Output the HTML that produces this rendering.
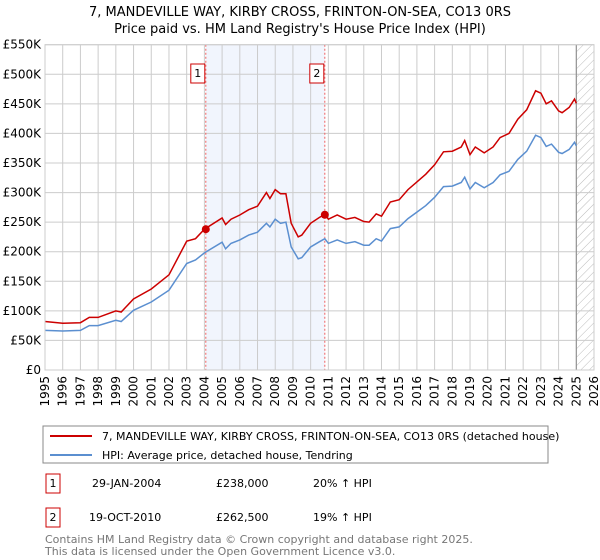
<!DOCTYPE html>
<html><head><meta charset="utf-8"><style>
body{margin:0;background:#fff;font-family:"Liberation Sans","DejaVu Sans",sans-serif;}
svg{display:block}
</style></head><body>
<svg width="600" height="560" xmlns="http://www.w3.org/2000/svg" font-family="DejaVu Sans, Liberation Sans, sans-serif">
<text x="300" y="16" text-anchor="middle" font-size="13">7, MANDEVILLE WAY, KIRBY CROSS, FRINTON-ON-SEA, CO13 0RS</text>
<text x="300" y="33" text-anchor="middle" font-size="13">Price paid vs. HM Land Registry's House Price Index (HPI)</text>
<defs><pattern id="hatch" width="6" height="6" patternUnits="userSpaceOnUse" patternTransform="rotate(45)"><line x1="0" y1="0" x2="0" y2="6" stroke="#bbb" stroke-width="1"/></pattern></defs>
<g id="grid"></g>
<g id="marks"></g>
<g id="axes"></g>
<rect x="43" y="426" width="505" height="37" fill="none" stroke="#888"/>
<line x1="50" y1="436" x2="92" y2="436" stroke="#cc0000" stroke-width="2"/>
<text x="102" y="440" font-size="11">7, MANDEVILLE WAY, KIRBY CROSS, FRINTON-ON-SEA, CO13 0RS (detached house)</text>
<line x1="50" y1="455" x2="92" y2="455" stroke="#5b8fd0" stroke-width="2"/>
<text x="102" y="459" font-size="11">HPI: Average price, detached house, Tendring</text>
<rect x="46" y="474" width="14" height="19" fill="#fff" stroke="#cc0000"/>
<text x="53" y="487" font-size="11" text-anchor="middle">1</text>
<text x="92" y="487" font-size="11">29-JAN-2004</text>
<text x="216" y="487" font-size="11">£238,000</text>
<text x="313" y="487" font-size="11">20% ↑ HPI</text>
<rect x="46" y="508" width="14" height="19" fill="#fff" stroke="#cc0000"/>
<text x="53" y="521" font-size="11" text-anchor="middle">2</text>
<text x="89" y="521" font-size="11">19-OCT-2010</text>
<text x="216" y="521" font-size="11">£262,500</text>
<text x="313" y="521" font-size="11">19% ↑ HPI</text>
<text x="45" y="543" font-size="11" fill="#777">Contains HM Land Registry data © Crown copyright and database right 2025.</text>
<text x="45" y="555" font-size="11" fill="#777">This data is licensed under the Open Government Licence v3.0.</text>
</svg>
<script>
const years=[1995,1996,1997.0,1997.5,1998,1999,1999.3,2000,2001,2002,2003,2003.5,2004,2005,2005.2,2005.5,2006,2006.5,2007,2007.5,2007.7,2008.0,2008.3,2008.6,2008.9,2009.3,2009.5,2010,2010.5,2010.8,2011.0,2011.5,2012,2012.5,2013.0,2013.3,2013.7,2014,2014.5,2015,2015.5,2016,2016.5,2017,2017.5,2018,2018.5,2018.7,2019.0,2019.3,2019.8,2020.3,2020.7,2021.2,2021.7,2022.2,2022.7,2023.0,2023.3,2023.6,2024.0,2024.2,2024.6,2024.9,2025.0];
const hpiValues=[67,66,67,75,75,84,82,101,115,135,180,186,198,216,205,214,220,228,233,248,242,255,248,250,208,188,190,208,217,222,214,220,214,217,211,211,222,218,239,242,256,267,278,292,310,311,317,326,306,317,308,317,330,336,356,370,397,393,378,382,368,366,373,385,379];
const propValues=[82,79,80,89,89,100,98,120,137,161,218,222,238,257,246,255,262,271,277,300,290,305,298,298,248,225,228,248,258,263,255,262,255,258,251,250,264,260,284,288,305,318,331,347,369,370,377,388,364,377,367,377,393,400,424,440,472,468,450,455,438,435,444,458,451];
const yTicks=[0,50,100,150,200,250,300,350,400,450,500,550];
const yTickLabels=["£0","£50K","£100K","£150K","£200K","£250K","£300K","£350K","£400K","£450K","£500K","£550K"];
const xTicks=[1995,1996,1997,1998,1999,2000,2001,2002,2003,2004,2005,2006,2007,2008,2009,2010,2011,2012,2013,2014,2015,2016,2017,2018,2019,2020,2021,2022,2023,2024,2025,2026];
const saleYears=[2004.08,2010.8];
const salePrices=[238,262.5];
const saleLabels=["1","2"];
const X0=45,X1=594,Y0=370,Y1=44.7;
const xs=v=>X0+(v-1995)/(2026-1995)*(X1-X0);
const ys=v=>Y0-v/550*(Y0-Y1);
const NS="http://www.w3.org/2000/svg";
function mk(parent,tag,attrs){const e=document.createElementNS(NS,tag);for(const k in attrs)e.setAttribute(k,attrs[k]);document.getElementById(parent).appendChild(e);return e;}
// shaded region & hatch
let r=mk('grid','rect',{x:xs(saleYears[0]),y:Y1,width:xs(saleYears[1])-xs(saleYears[0]),height:Y0-Y1,fill:'#eef3fc',opacity:0.8});


let h=mk('grid','rect',{x:xs(2025),y:Y1,width:X1-xs(2025),height:Y0-Y1,fill:'url(#hatch)'});


xTicks.forEach(t=>{const l=mk('grid','line',{x1:xs(t),x2:xs(t),y1:Y1,y2:Y0,stroke:'#ccc','stroke-width':1});


const tx=mk('axes','text',{x:0,y:0,'font-size':12,'text-anchor':'end',transform:`translate(${xs(t)+4},${Y0+6}) rotate(-90)`});
tx.textContent=t;

});
yTicks.forEach((t,i)=>{const l=mk('grid','line',{x1:X0,x2:X1,y1:ys(t),y2:ys(t),stroke:'#ccc','stroke-width':1});


const tx=mk('axes','text',{x:X0-4,y:ys(t)+4,'font-size':12,'text-anchor':'end'});
tx.textContent=yTickLabels[i];

});
let nl=mk('grid','line',{x1:xs(2025),x2:xs(2025),y1:Y1,y2:Y0,stroke:'#888','stroke-width':1});


saleYears.forEach((y,i)=>{const l=mk('marks','line',{x1:xs(y),x2:xs(y),y1:Y1,y2:Y0,stroke:'#f06060','stroke-dasharray':'2,2','stroke-width':1});

});
const pts=v=>years.map((y,i)=>xs(y).toFixed(1)+','+ys(v[i]).toFixed(1)).join(' ');
let pb=mk('marks','polyline',{points:pts(hpiValues),fill:'none',stroke:'#5b8fd0','stroke-width':1.5});


let pr=mk('marks','polyline',{points:pts(propValues),fill:'none',stroke:'#cc0000','stroke-width':1.5});


saleYears.forEach((y,i)=>{const c=mk('marks','circle',{cx:xs(y),cy:ys(salePrices[i]),r:4,fill:'#cc0000'});


const b=mk('marks','rect',{x:xs(y)-15,y:64,width:14,height:19,fill:'#fff',stroke:'#cc0000'});


const t=mk('marks','text',{x:xs(y)-8,y:77,'font-size':11,'text-anchor':'middle'});
t.textContent=saleLabels[i];

});
let fr=mk('axes','rect',{x:X0,y:Y1,width:X1-X0,height:Y0-Y1,fill:'none',stroke:'#ccc'});


</script>
</body></html>
